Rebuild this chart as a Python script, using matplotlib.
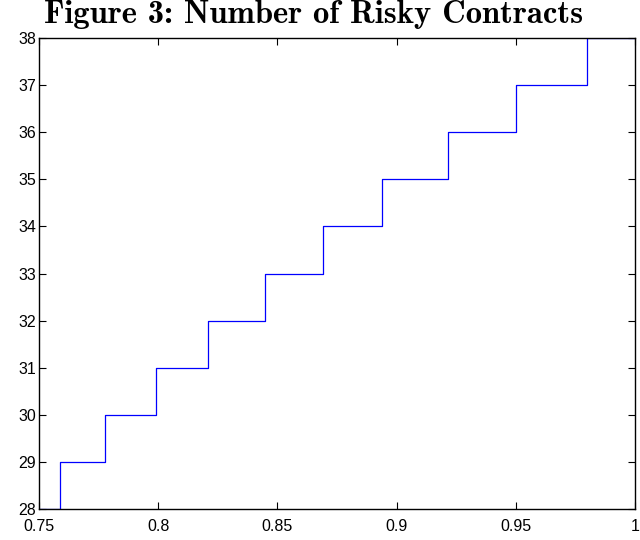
import numpy as np
import matplotlib.pyplot as plt

# x where the count steps up by one, and the counts
step_x = [0.7586, 0.7777, 0.7990, 0.8209, 0.8446, 0.8690, 0.8937, 0.9217, 0.9503, 0.9800]
counts = [28, 29, 30, 31, 32, 33, 34, 35, 36, 37, 38]
x_start, x_end = 0.75, 1.0

xs = [x_start] + step_x + [x_end]
ys = counts + [counts[-1]]

fig = plt.figure(figsize=(6.4, 5.4), dpi=100)
ax = fig.add_axes([0.061, 0.0574, 0.931, 0.8722])
ax.step(xs, ys, where='post', color='blue', linewidth=0.9)

ax.set_xlim(0.75, 1.0)
ax.set_ylim(28, 38)
ax.set_xticks([0.75, 0.8, 0.85, 0.9, 0.95, 1.0])
ax.set_xticklabels(['0.75', '0.8', '0.85', '0.9', '0.95', '1'])
ax.set_yticks(range(28, 39))
ax.tick_params(direction='in', top=True, right=True, length=5, width=0.8,
               labelsize=11.5, pad=2)
ax.tick_params(axis='x', pad=7)
for lab in ax.get_xticklabels() + ax.get_yticklabels():
    lab.set_family(['Liberation Sans', 'DejaVu Sans'])
for s in ax.spines.values():
    s.set_linewidth(1.0)

fig.text(0.49, 0.958, 'Figure 3: Number of Risky Contracts', ha='center', va='baseline',
         fontsize=23.5, family=['cmb10', 'DejaVu Serif'])

fig.savefig('out.png', dpi=100)
